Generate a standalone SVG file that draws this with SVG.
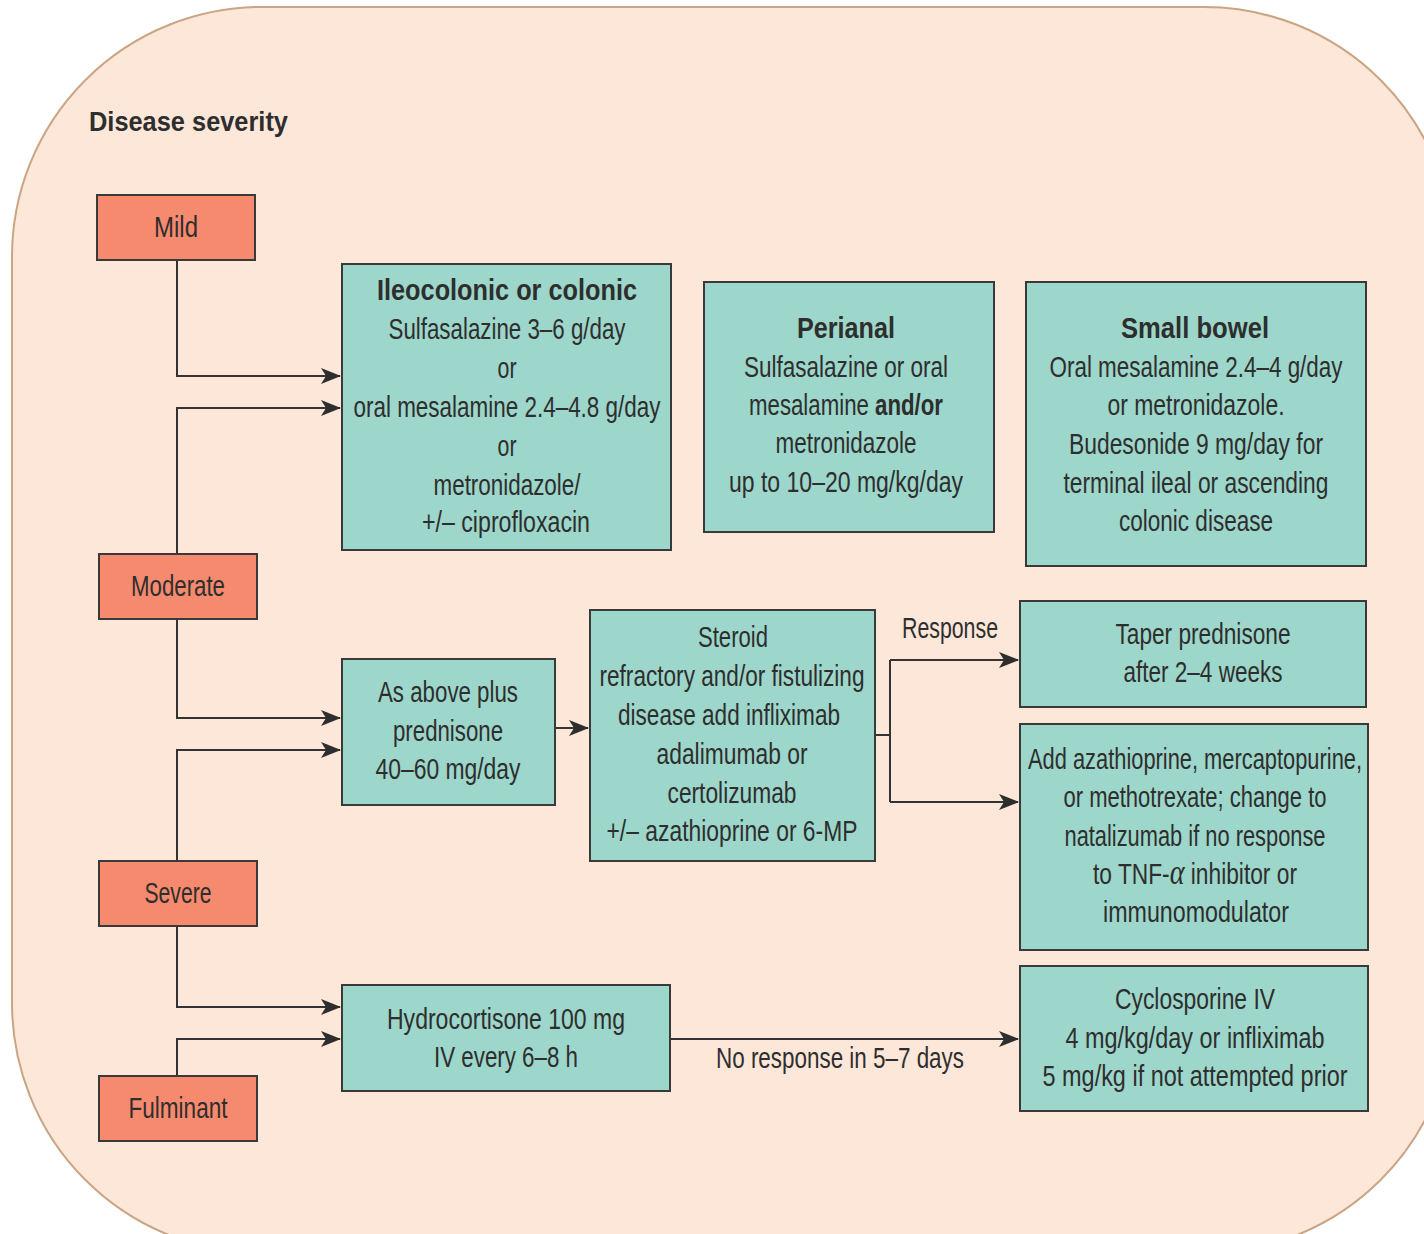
<svg xmlns="http://www.w3.org/2000/svg" width="1424" height="1234" viewBox="0 0 1424 1234">
<defs>
<style>
.bg{fill:#fde7d9;stroke:#c9a584;stroke-width:2}
.sev{fill:#f68a6f;stroke:#3a3a3a;stroke-width:2}
.box{fill:#9dd6ca;stroke:#3a3a3a;stroke-width:2}
text{font-family:"Liberation Sans",Arial,sans-serif;font-size:29px;fill:#2e2e2e;text-anchor:middle}
.b{font-weight:bold}
.title{font-weight:bold;text-anchor:start;font-size:28px}
.conn{fill:none;stroke:#333;stroke-width:2}
.al{font-family:"Liberation Serif",serif;font-style:italic;font-size:36px}
</style>
<marker id="arr" viewBox="0 0 20 16" refX="19" refY="8" markerWidth="20" markerHeight="16" markerUnits="userSpaceOnUse" orient="auto">
<path d="M0,0 L20,8 L0,16 L5,8 Z" fill="#2e2e2e"/>
</marker>
</defs>
<rect class="bg" x="12" y="7" width="1442" height="1246" rx="250" ry="250"/>
<text class="title" x="89" y="131" textLength="199" lengthAdjust="spacingAndGlyphs">Disease severity</text>

<g id="connectors">
<path class="conn" d="M177,260 V376 H340" marker-end="url(#arr)"/>
<path class="conn" d="M177,554 V408 H340" marker-end="url(#arr)"/>
<path class="conn" d="M177,619 V718 H340" marker-end="url(#arr)"/>
<path class="conn" d="M177,861 V750 H340" marker-end="url(#arr)"/>
<path class="conn" d="M177,926 V1007 H340" marker-end="url(#arr)"/>
<path class="conn" d="M177,1076 V1039 H340" marker-end="url(#arr)"/>
<path class="conn" d="M555,728 H588" marker-end="url(#arr)"/>
<path class="conn" d="M875,735 H890"/>
<path class="conn" d="M890,660 V802"/>
<path class="conn" d="M890,660 H1018" marker-end="url(#arr)"/>
<path class="conn" d="M890,802 H1018" marker-end="url(#arr)"/>
<path class="conn" d="M670,1039 H1018" marker-end="url(#arr)"/>
<text x="950" y="638" textLength="96" lengthAdjust="spacingAndGlyphs">Response</text>
<text x="840" y="1068" textLength="248" lengthAdjust="spacingAndGlyphs">No response in 5–7 days</text>
</g>

<g id="mild"><rect class="sev" x="97" y="195" width="158" height="65"/><text x="176" y="237" textLength="44" lengthAdjust="spacingAndGlyphs">Mild</text></g>
<g id="moderate"><rect class="sev" x="99" y="554" width="158" height="65"/><text x="178" y="596" textLength="94" lengthAdjust="spacingAndGlyphs">Moderate</text></g>
<g id="severe"><rect class="sev" x="99" y="861" width="158" height="65"/><text x="178" y="903" textLength="67" lengthAdjust="spacingAndGlyphs">Severe</text></g>
<g id="fulminant"><rect class="sev" x="99" y="1076" width="158" height="65"/><text x="178" y="1118" textLength="99" lengthAdjust="spacingAndGlyphs">Fulminant</text></g>

<g id="ileocolonic"><rect class="box" x="342" y="264" width="329" height="286"/>
<text class="b" x="507" y="300" textLength="260" lengthAdjust="spacingAndGlyphs">Ileocolonic or colonic</text>
<text x="507" y="339" textLength="237" lengthAdjust="spacingAndGlyphs">Sulfasalazine 3–6 g/day</text>
<text x="507" y="378" textLength="19" lengthAdjust="spacingAndGlyphs">or</text>
<text x="507" y="417" textLength="307" lengthAdjust="spacingAndGlyphs">oral mesalamine 2.4–4.8 g/day</text>
<text x="507" y="456" textLength="19" lengthAdjust="spacingAndGlyphs">or</text>
<text x="507" y="495" textLength="147" lengthAdjust="spacingAndGlyphs">metronidazole/</text>
<text x="506" y="532" textLength="168" lengthAdjust="spacingAndGlyphs">+/– ciprofloxacin</text>
</g>

<g id="perianal"><rect class="box" x="704" y="282" width="290" height="250"/>
<text class="b" x="846" y="338" textLength="98" lengthAdjust="spacingAndGlyphs">Perianal</text>
<text x="846" y="377" textLength="204" lengthAdjust="spacingAndGlyphs">Sulfasalazine or oral</text>
<text x="846" y="415" textLength="194" lengthAdjust="spacingAndGlyphs">mesalamine <tspan class="b">and/or</tspan></text>
<text x="846" y="453" textLength="141" lengthAdjust="spacingAndGlyphs">metronidazole</text>
<text x="846" y="492" textLength="234" lengthAdjust="spacingAndGlyphs">up to 10–20 mg/kg/day</text>
</g>

<g id="smallbowel"><rect class="box" x="1026" y="282" width="340" height="284"/>
<text class="b" x="1195" y="338" textLength="148" lengthAdjust="spacingAndGlyphs">Small bowel</text>
<text x="1196" y="377" textLength="293" lengthAdjust="spacingAndGlyphs">Oral mesalamine 2.4–4 g/day</text>
<text x="1196" y="415" textLength="177" lengthAdjust="spacingAndGlyphs">or metronidazole.</text>
<text x="1196" y="454" textLength="254" lengthAdjust="spacingAndGlyphs">Budesonide 9 mg/day for</text>
<text x="1196" y="493" textLength="265" lengthAdjust="spacingAndGlyphs">terminal ileal or ascending</text>
<text x="1196" y="531" textLength="154" lengthAdjust="spacingAndGlyphs">colonic disease</text>
</g>

<g id="asabove"><rect class="box" x="342" y="659" width="213" height="146"/>
<text x="448" y="702" textLength="140" lengthAdjust="spacingAndGlyphs">As above plus</text>
<text x="448" y="741" textLength="110" lengthAdjust="spacingAndGlyphs">prednisone</text>
<text x="448" y="779" textLength="145" lengthAdjust="spacingAndGlyphs">40–60 mg/day</text>
</g>

<g id="steroid"><rect class="box" x="590" y="610" width="285" height="251"/>
<text x="733" y="647" textLength="70" lengthAdjust="spacingAndGlyphs">Steroid</text>
<text x="732" y="686" textLength="265" lengthAdjust="spacingAndGlyphs">refractory and/or fistulizing</text>
<text x="729" y="725" textLength="222" lengthAdjust="spacingAndGlyphs">disease add infliximab</text>
<text x="732" y="764" textLength="151" lengthAdjust="spacingAndGlyphs">adalimumab or</text>
<text x="732" y="803" textLength="129" lengthAdjust="spacingAndGlyphs">certolizumab</text>
<text x="732" y="841" textLength="251" lengthAdjust="spacingAndGlyphs">+/– azathioprine or 6-MP</text>
</g>

<g id="taper"><rect class="box" x="1020" y="601" width="346" height="106"/>
<text x="1203" y="644" textLength="175" lengthAdjust="spacingAndGlyphs">Taper prednisone</text>
<text x="1203" y="682" textLength="159" lengthAdjust="spacingAndGlyphs">after 2–4 weeks</text>
</g>

<g id="addaza"><rect class="box" x="1020" y="724" width="348" height="226"/>
<text x="1195" y="769" textLength="334" lengthAdjust="spacingAndGlyphs">Add azathioprine, mercaptopurine,</text>
<text x="1195" y="807" textLength="263" lengthAdjust="spacingAndGlyphs">or methotrexate; change to</text>
<text x="1195" y="846" textLength="261" lengthAdjust="spacingAndGlyphs">natalizumab if no response</text>
<text x="1195" y="884" textLength="204" lengthAdjust="spacingAndGlyphs">to TNF-<tspan class="al">α</tspan> inhibitor or</text>
<text x="1196" y="922" textLength="186" lengthAdjust="spacingAndGlyphs">immunomodulator</text>
</g>

<g id="hydrocortisone"><rect class="box" x="342" y="985" width="328" height="106"/>
<text x="506" y="1029" textLength="238" lengthAdjust="spacingAndGlyphs">Hydrocortisone 100 mg</text>
<text x="506" y="1067" textLength="144" lengthAdjust="spacingAndGlyphs">IV every 6–8 h</text>
</g>

<g id="cyclosporine"><rect class="box" x="1020" y="966" width="348" height="145"/>
<text x="1195" y="1009" textLength="160" lengthAdjust="spacingAndGlyphs">Cyclosporine IV</text>
<text x="1195" y="1048" textLength="259" lengthAdjust="spacingAndGlyphs">4 mg/kg/day or infliximab</text>
<text x="1195" y="1086" textLength="305" lengthAdjust="spacingAndGlyphs">5 mg/kg if not attempted prior</text>
</g>
</svg>
